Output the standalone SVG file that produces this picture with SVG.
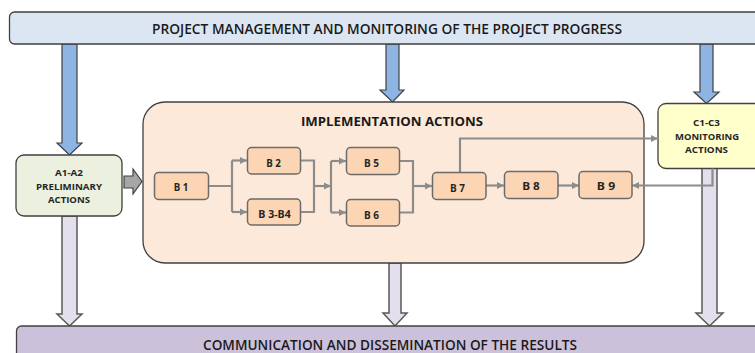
<svg xmlns="http://www.w3.org/2000/svg" width="755" height="353" viewBox="0 0 755 353">
<defs>
<style>
.t{font-family:"Open Sans","Liberation Sans",sans-serif;fill:#1a1a1a}
.m{font-weight:600}
.b{font-weight:700}
.lbl{font-family:"Open Sans","Liberation Sans",sans-serif;font-weight:700;font-size:10.5px;fill:#262626;text-anchor:middle}
.sm{font-family:"Open Sans","Liberation Sans",sans-serif;font-weight:700;font-size:9.5px;fill:#262626;text-anchor:middle}
.bx{fill:#fcd5b5;stroke:#6b6b6b;stroke-width:1.5}
.con{fill:none;stroke:#8c8c8c;stroke-width:2.2}
.blue{fill:#8eb4e3;stroke:#404040;stroke-width:1.2}
.lav{fill:#e4dfec;stroke:#595959;stroke-width:1.5}
</style>
<marker id="ah" viewBox="0 0 10 10" refX="10" refY="5" markerWidth="3.4" markerHeight="3.4" orient="auto" markerUnits="strokeWidth">
<path d="M0,0 L10,5 L0,10 z" fill="#8c8c8c"/>
</marker>
</defs>

<!-- block arrows (bottom layer) -->
<g id="block-arrows">
<path class="blue" d="M62,44 H77 V143 H82 L69.5,155 L57,143 H62 Z"/>
<path class="blue" d="M386,44 H399 V90 H404 L392.5,102 L380,90 H386 Z"/>
<path class="blue" d="M700,44 H713 V92 H719 L706.5,103.5 L694,92 H700 Z"/>
<path class="lav" d="M62,216 H77 V314 H82 L69.5,326 L57,314 H62 Z"/>
<path class="lav" d="M389,263 H401 V313 H407 L395,326 L383,313 H389 Z"/>
<path class="lav" d="M702,168 H717 V313 H723 L709.5,326 L696,313 H702 Z"/>
<path fill="#a6a6a6" stroke="#404040" stroke-width="1.2" d="M124,176 H133 V169 L142,181.5 L133,194 V188 H124 Z"/>
</g>

<g id="top-bar">
<rect x="9.5" y="12" width="760" height="32" rx="5" fill="#dce6f2" stroke="#404040" stroke-width="1.3"/>
<text class="t m" x="152" y="34" font-size="13.5" textLength="470" lengthAdjust="spacingAndGlyphs">PROJECT MANAGEMENT AND MONITORING OF THE PROJECT PROGRESS</text>
</g>

<g id="bottom-bar">
<rect x="16.5" y="326" width="760" height="40" rx="5" fill="#ccc1da" stroke="#404040" stroke-width="1.3"/>
<text class="t m" x="203" y="350" font-size="13.5" textLength="374" lengthAdjust="spacingAndGlyphs">COMMUNICATION AND DISSEMINATION OF THE RESULTS</text>
</g>

<g id="a1-a2">
<rect x="16" y="155" width="106" height="61" rx="8" fill="#ebf1de" stroke="#404040" stroke-width="1.3"/>
<text class="sm" x="69" y="176" textLength="28" lengthAdjust="spacingAndGlyphs">A1-A2</text>
<text class="sm" x="69" y="189.5" textLength="66" lengthAdjust="spacingAndGlyphs">PRELIMINARY</text>
<text class="sm" x="69" y="203.3" textLength="42" lengthAdjust="spacingAndGlyphs">ACTIONS</text>
</g>

<g id="implementation">
<rect x="143" y="102" width="501" height="161" rx="22" fill="#fde9d9" stroke="#404040" stroke-width="1.3"/>
<text class="t b" x="301" y="125.7" font-size="13" textLength="182" lengthAdjust="spacingAndGlyphs">IMPLEMENTATION ACTIONS</text>
</g>

<g id="c1-c3">
<rect x="658" y="103.5" width="110" height="65" rx="8" fill="#ffffcc" stroke="#404040" stroke-width="1.3"/>
<text class="sm" x="706.5" y="126" textLength="27" lengthAdjust="spacingAndGlyphs">C1-C3</text>
<text class="sm" x="707" y="139.5" textLength="64" lengthAdjust="spacingAndGlyphs">MONITORING</text>
<text class="sm" x="706.5" y="153.3" textLength="43" lengthAdjust="spacingAndGlyphs">ACTIONS</text>
</g>

<g id="connectors">
<path class="con" d="M208,186 H232 M232,160.5 V212"/>
<path class="con" d="M232,160.5 H247" marker-end="url(#ah)"/>
<path class="con" d="M232,212 H247" marker-end="url(#ah)"/>
<path class="con" d="M300,160.5 H314 V212 H300"/>
<path class="con" d="M314,186 H331" marker-end="url(#ah)"/>
<path class="con" d="M331,161 V212.5"/>
<path class="con" d="M331,161 H346" marker-end="url(#ah)"/>
<path class="con" d="M331,212.5 H346" marker-end="url(#ah)"/>
<path class="con" d="M399,161 H413 V212.5 H399"/>
<path class="con" d="M413,186 H432" marker-end="url(#ah)"/>
<path class="con" d="M486,185.5 H504" marker-end="url(#ah)"/>
<path class="con" d="M558,185.5 H579" marker-end="url(#ah)"/>
<path class="con" d="M460,172 V138.5 H658" marker-end="url(#ah)"/>
<path class="con" d="M712.5,168.5 V185.5 H632" marker-end="url(#ah)"/>
</g>

<g id="b1"><rect class="bx" x="154.5" y="172.5" width="54" height="27" rx="4"/><text class="lbl" x="181" y="191" textLength="14.5" lengthAdjust="spacingAndGlyphs">B 1</text></g>
<g id="b2"><rect class="bx" x="247.5" y="147.5" width="53" height="26.5" rx="4"/><text class="lbl" x="273.5" y="166.5" textLength="14.7" lengthAdjust="spacingAndGlyphs">B 2</text></g>
<g id="b3-b4"><rect class="bx" x="247.5" y="199" width="53" height="26" rx="4"/><text class="lbl" x="274.5" y="217.5" textLength="32.4" lengthAdjust="spacingAndGlyphs">B 3-B4</text></g>
<g id="b5"><rect class="bx" x="346.5" y="147.5" width="53" height="27" rx="4"/><text class="lbl" x="371.5" y="166.5" textLength="15" lengthAdjust="spacingAndGlyphs">B 5</text></g>
<g id="b6"><rect class="bx" x="346.5" y="199.5" width="53" height="26.5" rx="4"/><text class="lbl" x="371.5" y="218.5" textLength="15" lengthAdjust="spacingAndGlyphs">B 6</text></g>
<g id="b7"><rect class="bx" x="432.5" y="172.5" width="53.5" height="27" rx="4"/><text class="lbl" x="457.5" y="191.5" textLength="15" lengthAdjust="spacingAndGlyphs">B 7</text></g>
<g id="b8"><rect class="bx" x="504.5" y="171.5" width="53.5" height="27" rx="4"/><text class="lbl" x="531" y="190" textLength="17.7" lengthAdjust="spacingAndGlyphs">B 8</text></g>
<g id="b9"><rect class="bx" x="579" y="171.5" width="53" height="27" rx="4"/><text class="lbl" x="606" y="190" textLength="18.3" lengthAdjust="spacingAndGlyphs">B 9</text></g>
</svg>
